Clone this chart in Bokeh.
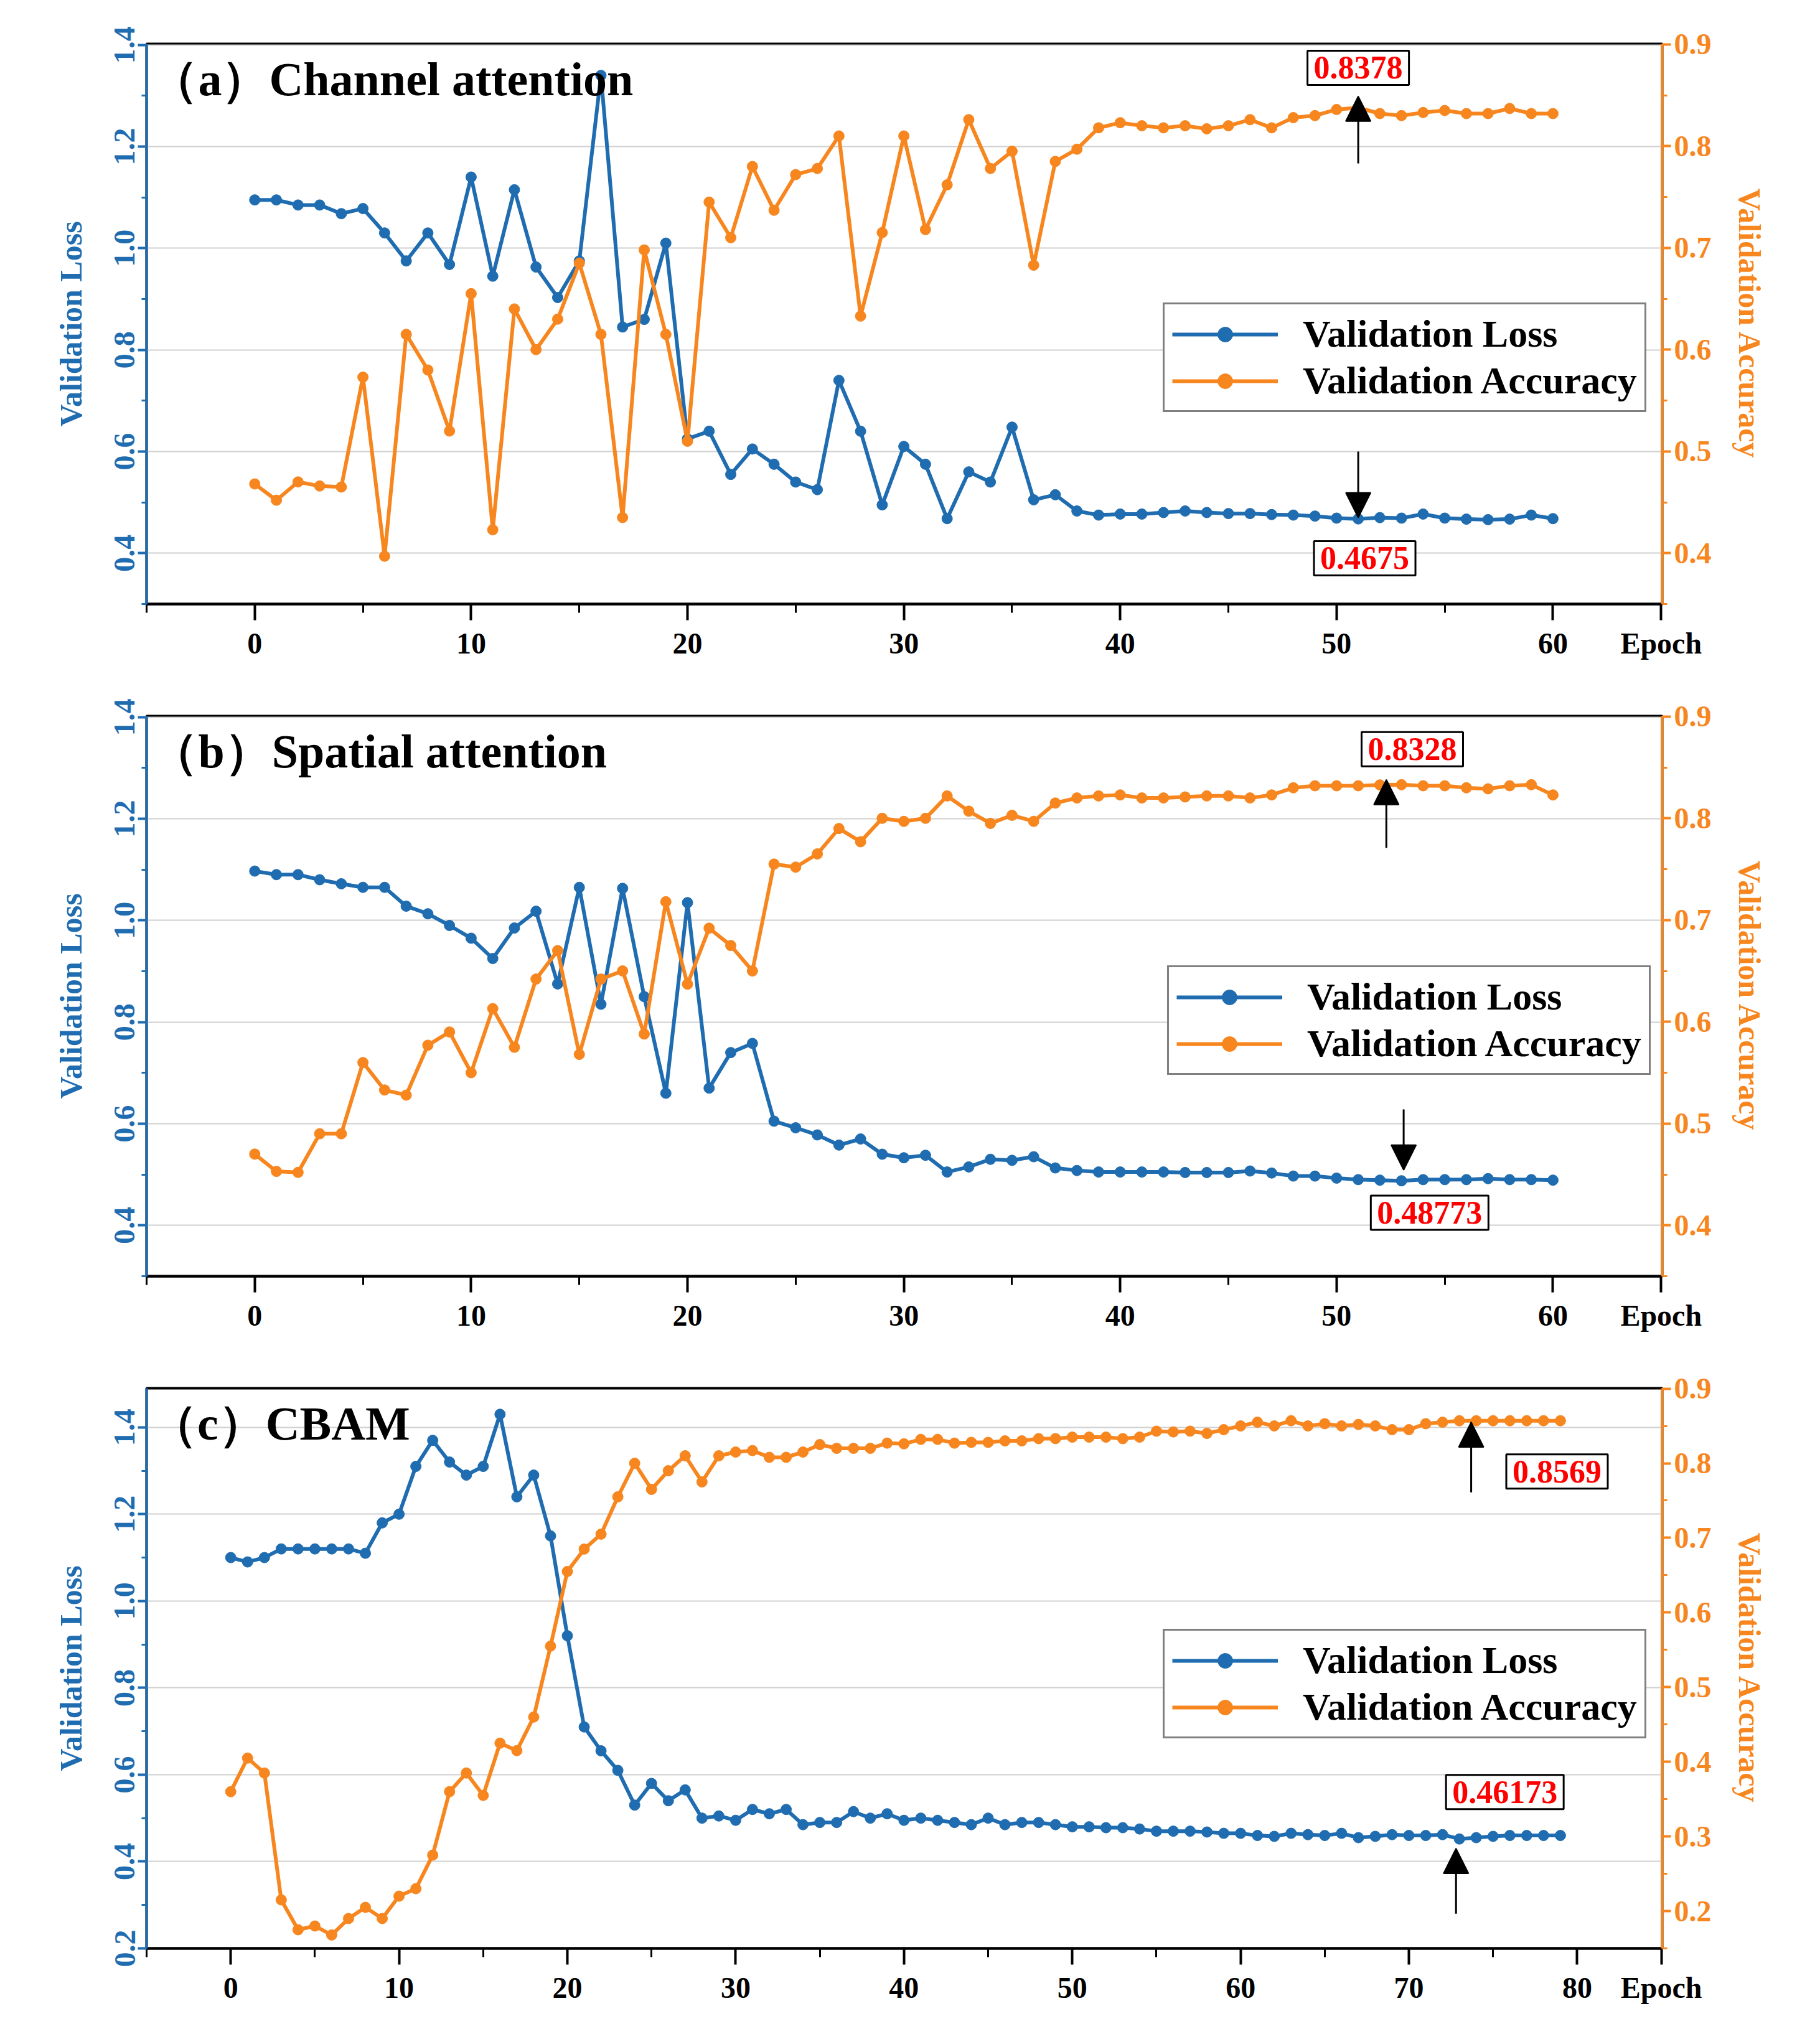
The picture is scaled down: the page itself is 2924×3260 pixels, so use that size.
from bokeh.plotting import figure
from bokeh.models import (Range1d, LinearAxis, SingleIntervalTicker, FixedTicker, Label, Arrow, NormalHead,
                          Legend, LegendItem, NumeralTickFormatter)
from bokeh.layouts import column
from bokeh.embed import file_html
from bokeh.resources import INLINE

epochs_ab = list(range(61))
epochs_c = list(range(80))

loss_a = [1.095,1.095,1.085,1.085,1.068,1.078,1.03,0.975,1.03,0.968,1.14,0.945,1.115,0.963,0.903,0.975,1.34,0.845,0.86,1.01,
          0.625,0.64,0.555,0.605,0.575,0.54,0.525,0.74,0.64,0.495,0.61,0.575,0.468,0.56,0.54,0.648,0.505,0.515,0.483,0.475,
          0.477,0.477,0.48,0.483,0.48,0.478,0.478,0.476,0.475,0.473,0.469,0.4675,0.47,0.469,0.477,0.469,0.467,0.466,0.467,0.475,0.468]
acc_a = [0.468,0.452,0.47,0.466,0.465,0.573,0.397,0.615,0.58,0.52,0.655,0.423,0.64,0.6,0.63,0.685,0.615,0.435,0.698,0.615,
         0.51,0.745,0.71,0.78,0.737,0.772,0.778,0.81,0.633,0.715,0.81,0.718,0.762,0.826,0.778,0.795,0.683,0.785,0.797,0.818,
         0.823,0.82,0.818,0.82,0.817,0.82,0.826,0.818,0.828,0.83,0.836,0.8378,0.832,0.83,0.833,0.835,0.832,0.832,0.837,0.832,0.832]
loss_b = [1.097,1.09,1.09,1.08,1.072,1.065,1.065,1.028,1.013,0.99,0.965,0.925,0.985,1.018,0.875,1.065,0.835,1.063,0.85,0.66,
          1.035,0.67,0.74,0.758,0.605,0.592,0.578,0.558,0.57,0.54,0.533,0.538,0.505,0.515,0.53,0.528,0.535,0.513,0.508,0.505,
          0.505,0.505,0.505,0.504,0.504,0.504,0.507,0.503,0.497,0.497,0.493,0.49,0.489,0.48773,0.49,0.49,0.49,0.492,0.49,0.49,0.489]
acc_b = [0.47,0.453,0.452,0.49,0.49,0.56,0.533,0.528,0.577,0.59,0.55,0.613,0.575,0.642,0.67,0.568,0.642,0.65,0.588,0.718,
         0.637,0.692,0.675,0.65,0.755,0.752,0.765,0.79,0.777,0.8,0.797,0.8,0.822,0.807,0.795,0.803,0.797,0.815,0.82,0.822,
         0.823,0.82,0.82,0.821,0.822,0.822,0.82,0.823,0.83,0.832,0.832,0.832,0.8328,0.833,0.832,0.832,0.83,0.829,0.832,0.833,0.823]
loss_c = [1.1,1.09,1.1,1.12,1.12,1.12,1.12,1.12,1.11,1.18,1.2,1.31,1.37,1.32,1.29,1.31,1.43,1.24,1.29,1.15,
          0.92,0.71,0.655,0.61,0.53,0.58,0.54,0.565,0.5,0.505,0.495,0.52,0.51,0.52,0.485,0.49,0.49,0.515,0.5,0.51,
          0.495,0.5,0.495,0.49,0.485,0.5,0.485,0.49,0.49,0.485,0.48,0.48,0.478,0.478,0.475,0.47,0.47,0.47,0.468,0.465,
          0.465,0.46,0.458,0.465,0.462,0.46,0.465,0.455,0.458,0.462,0.46,0.46,0.462,0.452,0.455,0.458,0.46,0.46,0.46,0.46]
acc_c = [0.36,0.405,0.385,0.215,0.175,0.18,0.168,0.19,0.205,0.19,0.22,0.23,0.275,0.36,0.385,0.355,0.425,0.415,0.46,0.555,
         0.655,0.685,0.705,0.755,0.8,0.765,0.79,0.81,0.775,0.81,0.815,0.817,0.808,0.808,0.815,0.825,0.82,0.82,0.82,0.827,
         0.826,0.832,0.832,0.827,0.828,0.828,0.83,0.83,0.833,0.833,0.835,0.835,0.835,0.833,0.835,0.843,0.842,0.843,0.84,0.845,
         0.85,0.855,0.85,0.857,0.85,0.853,0.85,0.852,0.85,0.845,0.845,0.853,0.855,0.857,0.8569,0.857,0.857,0.857,0.857,0.857]

titles = ["（a）Channel attention", "（b）Spatial attention", "（c）CBAM"]
acc_labels = ["0.8378", "0.8328", "0.8569"]
loss_labels = ["0.4675", "0.48773", "0.46173"]
x_label = "Epoch"

BLUE = "#1f6db0"
ORANGE = "#f7861f"
FONT = "Liberation Serif"


def style_axis(ax, color, size="48px"):
    ax.axis_line_color = color
    ax.axis_line_width = 4
    ax.major_tick_line_color = color
    ax.minor_tick_line_color = color
    ax.major_tick_line_width = 4
    ax.minor_tick_line_width = 3
    ax.major_tick_in = 0
    ax.minor_tick_in = 0
    ax.major_label_text_color = color
    ax.major_label_text_font = FONT
    ax.major_label_text_font_style = "bold"
    ax.major_label_text_font_size = size


def make(x, loss, acc, title, acc_lab, loss_lab, xmax, lr, ar, ann, leg_loc):
    p = figure(width=2900, height=1080, output_backend="svg", toolbar_location=None,
               x_range=Range1d(-5, xmax + 0.05), y_range=Range1d(*lr),
               min_border_left=235, min_border_right=230, min_border_top=70, min_border_bottom=110)
    p.extra_y_ranges = {"acc": Range1d(*ar)}
    p.outline_line_color = "black"
    p.outline_line_width = 4
    p.xgrid.visible = False
    p.ygrid.grid_line_color = "#d0d0d0"
    p.ygrid.grid_line_width = 2
    p.ygrid.ticker = SingleIntervalTicker(interval=0.2)

    xmaj = list(range(0, xmax - 4, 10))
    xa = p.xaxis[0]
    xa.ticker = FixedTicker(ticks=xmaj + [xmax], minor_ticks=list(range(-5, xmax, 5)))
    xa.major_label_overrides = {xmax: x_label}
    style_axis(xa, "black")
    xa.major_tick_out = 26
    xa.minor_tick_out = 14
    xa.major_label_standoff = 10

    ya = p.yaxis[0]
    ya.ticker = SingleIntervalTicker(interval=0.2, num_minor_ticks=2)
    ya.formatter = NumeralTickFormatter(format="0.0")
    style_axis(ya, BLUE)
    ya.major_tick_out = 14
    ya.minor_tick_out = 8
    ya.major_label_orientation = "vertical"
    ya.axis_label = "Validation Loss"
    ya.axis_label_text_color = BLUE
    ya.axis_label_text_font = FONT
    ya.axis_label_text_font_style = "bold"
    ya.axis_label_text_font_size = "50px"
    ya.axis_label_standoff = 40

    ra = LinearAxis(y_range_name="acc", ticker=SingleIntervalTicker(interval=0.1, num_minor_ticks=2),
                    formatter=NumeralTickFormatter(format="0.0"))
    style_axis(ra, ORANGE)
    ra.major_tick_out = 14
    ra.minor_tick_out = 8
    ra.axis_label = "Validation Accuracy"
    ra.axis_label_text_color = ORANGE
    ra.axis_label_text_font = FONT
    ra.axis_label_text_font_style = "bold"
    ra.axis_label_text_font_size = "50px"
    ra.axis_label_standoff = 30
    p.add_layout(ra, "right")

    l1 = p.line(x, loss, line_color=BLUE, line_width=6)
    c1 = p.scatter(x, loss, size=17, fill_color=BLUE, line_color=BLUE)
    l2 = p.line(x, acc, line_color=ORANGE, line_width=6, y_range_name="acc")
    c2 = p.scatter(x, acc, size=17, fill_color=ORANGE, line_color=ORANGE, y_range_name="acc")

    leg = Legend(items=[LegendItem(label="Validation Loss", renderers=[l1, c1]),
                        LegendItem(label="Validation Accuracy", renderers=[l2, c2])],
                 location=leg_loc, border_line_color="black", border_line_width=3,
                 label_text_font=FONT, label_text_font_style="bold", label_text_font_size="62px",
                 label_text_color="black",
                 glyph_width=170, glyph_height=60, label_standoff=40, padding=12, spacing=4,
                 background_fill_alpha=1.0)
    p.add_layout(leg, "center")

    p.add_layout(Label(x=-4.8, y=lr[1], y_offset=-14, text=title, text_font=FONT, text_color="black",
                       text_font_style="bold", text_font_size="76px", text_baseline="top"))

    (ax, ay0, ay1, alx, aly), (bx, by0, by1, blx, bly) = ann
    p.add_layout(Arrow(x_start=ax, y_start=ay0, x_end=ax, y_end=ay1, y_range_name="acc",
                       line_width=3, end=NormalHead(size=40, fill_color="black", line_width=2)))
    p.add_layout(Label(x=alx, y=aly, y_range_name="acc", text=acc_lab, text_color="red",
                       text_font=FONT, text_font_style="bold", text_font_size="52px",
                       text_align="center", text_baseline="middle",
                       border_line_color="black", border_line_width=3, background_fill_color="white",
                       padding=10))
    p.add_layout(Arrow(x_start=bx, y_start=by0, x_end=bx, y_end=by1,
                       line_width=3, end=NormalHead(size=40, fill_color="black", line_width=2)))
    p.add_layout(Label(x=blx, y=bly, text=loss_lab, text_color="red",
                       text_font=FONT, text_font_style="bold", text_font_size="52px",
                       text_align="center", text_baseline="middle",
                       border_line_color="black", border_line_width=3, background_fill_color="white",
                       padding=10))
    return p


pa = make(epochs_ab, loss_a, acc_a, titles[0], acc_labels[0], loss_labels[0], 65, (0.3, 1.402), (0.35, 0.9005),
          ((51, 0.783, 0.849, 51, 0.877), (51, 0.6, 0.47, 51.3, 0.39)), (1633, 308))
pb = make(epochs_ab, loss_b, acc_b, titles[1], acc_labels[1], loss_labels[1], 65, (0.3, 1.402), (0.35, 0.9005),
          ((52.3, 0.771, 0.838, 53.5, 0.868), (53.1, 0.628, 0.509, 54.3, 0.425)), (1640, 323))
pc = make(epochs_c, loss_c, acc_c, titles[2], acc_labels[2], loss_labels[2], 85, (0.2, 1.49), (0.15, 0.9005),
          ((73.7, 0.761, 0.855, 78.8, 0.789), (72.8, 0.28, 0.43, 75.7, 0.56)), (1633, 337))

layout = column(pa, pb, pc, spacing=0)
open("out.html", "w").write(file_html(layout, INLINE))
